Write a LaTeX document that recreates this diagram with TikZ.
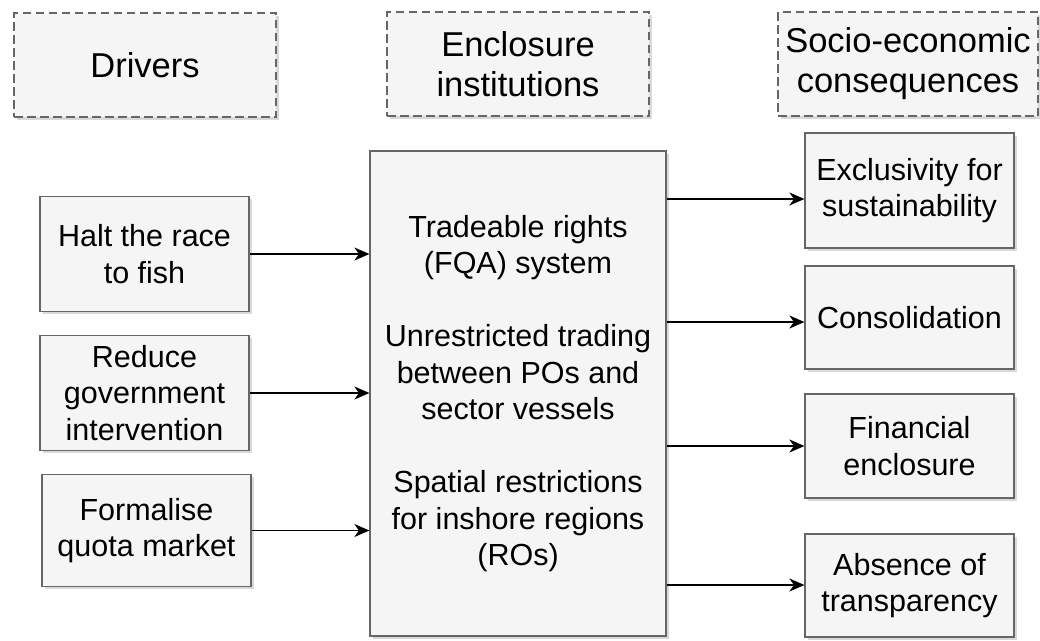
\documentclass[tikz,border=0pt]{standalone}
\usepackage{fontspec}
\setmainfont{Liberation Sans}
\usetikzlibrary{positioning,arrows.meta,shadows}
\definecolor{boxfill}{HTML}{F5F5F5}
\definecolor{boxline}{HTML}{666666}
\tikzset{
  colhead/.style={draw=boxline,fill=boxfill,line width=1.8pt,dash pattern=on 8.5pt off 4.5pt,
    minimum height=104pt,inner sep=2pt,align=center,font=\fontsize{34.5}{40}\selectfont,
    drop shadow={shadow xshift=2.5pt,shadow yshift=-2.5pt,opacity=0.3}},  % column header
  cbox/.style={draw=boxline,fill=boxfill,line width=1.2pt,inner sep=2pt,align=center,
    font=\fontsize{30.5}{36.5}\selectfont,
    drop shadow={shadow xshift=2.5pt,shadow yshift=-2.5pt,opacity=0.3}},
  link/.style={-{Stealth[length=15pt,width=13pt,inset=4.5pt]},line width=1.5pt},
}

\begin{document}
\begin{tikzpicture}[x=1pt,y=-1pt]
  \useasboundingbox (0,0) rectangle (1040,640);
  \node[colhead,minimum width=262pt] (drv) at (145,65) {Drivers};
  \node[colhead,minimum width=262pt] (enc) at (518,64) {Enclosure\\institutions};
  \node[colhead,minimum width=260pt] (soc) at (908,64) {Socio-economic\\consequences};
  \node[cbox,minimum width=296pt,minimum height=485pt] (inst) at (518,393.5)
    {Tradeable rights\\(FQA) system\\[36.5pt] Unrestricted trading\\between POs and\\sector vessels\\[36.5pt]
     Spatial restrictions\\for inshore regions\\(ROs)};
  \foreach \nm/\cx/\cy/\bh/\txt in {halt/144.5/254/115/Halt the race\\to fish,
      reduce/144.5/393/115/Reduce\\government\\intervention, form/146.5/530.5/112/Formalise\\quota market}{
    \node[cbox,minimum width=209pt,minimum height=\bh pt] (\nm) at (\cx,\cy) {\txt};
    \draw[link] (\nm.east) -- (\nm.east -| inst.west);
  }
  \foreach \nm/\cy/\bh/\ay/\txt in {exc/190.5/115/199/Exclusivity for\\sustainability,
      cons/317.5/103/322/Consolidation, fin/446/104/446/Financial\\enclosure,
      abs/585.5/103/585/Absence of\\transparency}{
    \node[cbox,minimum width=209pt,minimum height=\bh pt] (\nm) at (909.5,\cy) {\txt};
    \draw[link] (inst.east |- 0,\ay) -- (\nm.west |- 0,\ay);
  }
\end{tikzpicture}
\end{document}
